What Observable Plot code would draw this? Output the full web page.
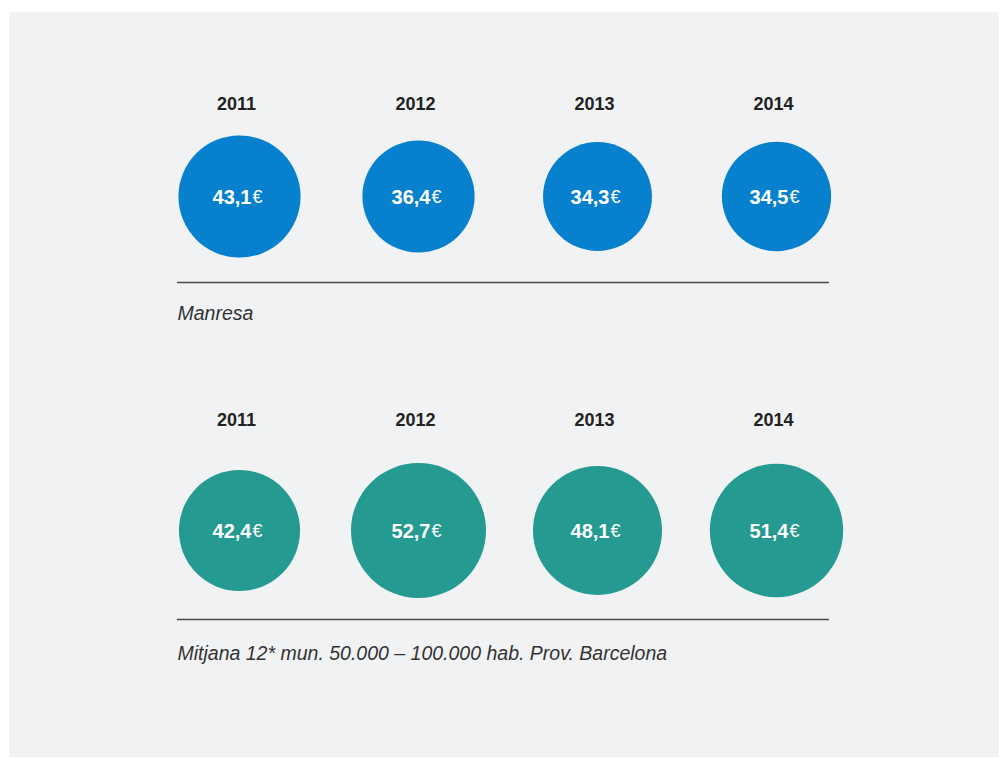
<!DOCTYPE html>
<html>
<head>
<meta charset="utf-8">
<script src="https://cdn.jsdelivr.net/npm/d3@7"></script>
<script src="https://cdn.jsdelivr.net/npm/@observablehq/plot@0.6"></script>
<style>
  html, body { margin: 0; padding: 0; background: #ffffff; }
  #wrap { position: relative; width: 1000px; height: 758px; }
  #panel { position: absolute; left: 9px; top: 12px; width: 990px; height: 745px; background: #f0f2f4; }
  #chart { position: absolute; left: 0; top: 0; }
</style>
</head>
<body>
<div id="wrap"><div id="panel"></div><div id="chart"></div></div>
<script>
const years = ["2011", "2012", "2013", "2014"];
const series = ["Manresa", "Mitjana 12* mun. 50.000 – 100.000 hab. Prov. Barcelona"];
const manresa = [43.1, 36.4, 34.3, 34.5];
const mitjana = [42.4, 52.7, 48.1, 51.4];
const colors = ["#0780cd", "#249a90"];

const data = [
  ...years.map((y, i) => ({year: y, series: series[0], value: manresa[i]})),
  ...years.map((y, i) => ({year: y, series: series[1], value: mitjana[i]}))
];
const fmt = v => v.toFixed(1).replace(".", ",");
const rowTop = data.filter(d => d.series === series[0]);
const rowBot = data.filter(d => d.series === series[1]);

const chart = Plot.plot({
  width: 1000,
  height: 758,
  marginLeft: 177,
  marginRight: 171,
  marginTop: 12,
  marginBottom: 1,
  style: {background: "transparent", overflow: "visible"},
  x: {type: "point", domain: years, range: [237.5, 777], padding: 0, axis: null},
  y: {type: "point", domain: series, range: [196, 530], padding: 0, axis: null},
  r: {type: "sqrt", domain: [0, 100], range: [0, 93]},
  color: {domain: series, range: colors},
  marks: [
    Plot.dot(data, {x: "year", y: "series", r: "value", fill: "series", stroke: null}),
    Plot.text(data, {x: "year", y: "series", text: d => fmt(d.value), fill: "white",
      fontWeight: "bold", fontSize: 20, fontFamily: "Liberation Sans, Arial, sans-serif",
      textAnchor: "end", dx: 12, dy: 1}),
    Plot.text(data, {x: "year", y: "series", text: d => "€", fill: "white",
      fontSize: 18, fontFamily: "Liberation Sans, Arial, sans-serif",
      textAnchor: "start", dx: 13, dy: 1}),
    Plot.text(rowTop, {x: "year", y: "series", text: "year", dy: -92, dx: -3, fill: "#222",
      fontWeight: "bold", fontSize: 18, fontFamily: "Liberation Sans, Arial, sans-serif"}),
    Plot.text(rowBot, {x: "year", y: "series", text: "year", dy: -110, dx: -3, fill: "#222",
      fontWeight: "bold", fontSize: 18, fontFamily: "Liberation Sans, Arial, sans-serif"}),
    Plot.ruleY([series[0]], {y: d => d, dy: 86, stroke: "#4a4a4a", strokeWidth: 1.5}),
    Plot.ruleY([series[1]], {y: d => d, dy: 89, stroke: "#4a4a4a", strokeWidth: 1.5}),
    Plot.text([series[0]], {y: d => d, text: d => d, frameAnchor: "left", textAnchor: "start",
      dy: 117, fill: "#333", fontStyle: "italic", fontSize: 19.5,
      fontFamily: "Liberation Sans, Arial, sans-serif"}),
    Plot.text([series[1]], {y: d => d, text: d => d, frameAnchor: "left", textAnchor: "start",
      dy: 123, fill: "#333", fontStyle: "italic", fontSize: 19.5,
      fontFamily: "Liberation Sans, Arial, sans-serif"})
  ]
});
document.getElementById("chart").appendChild(chart);
</script>
</body>
</html>
